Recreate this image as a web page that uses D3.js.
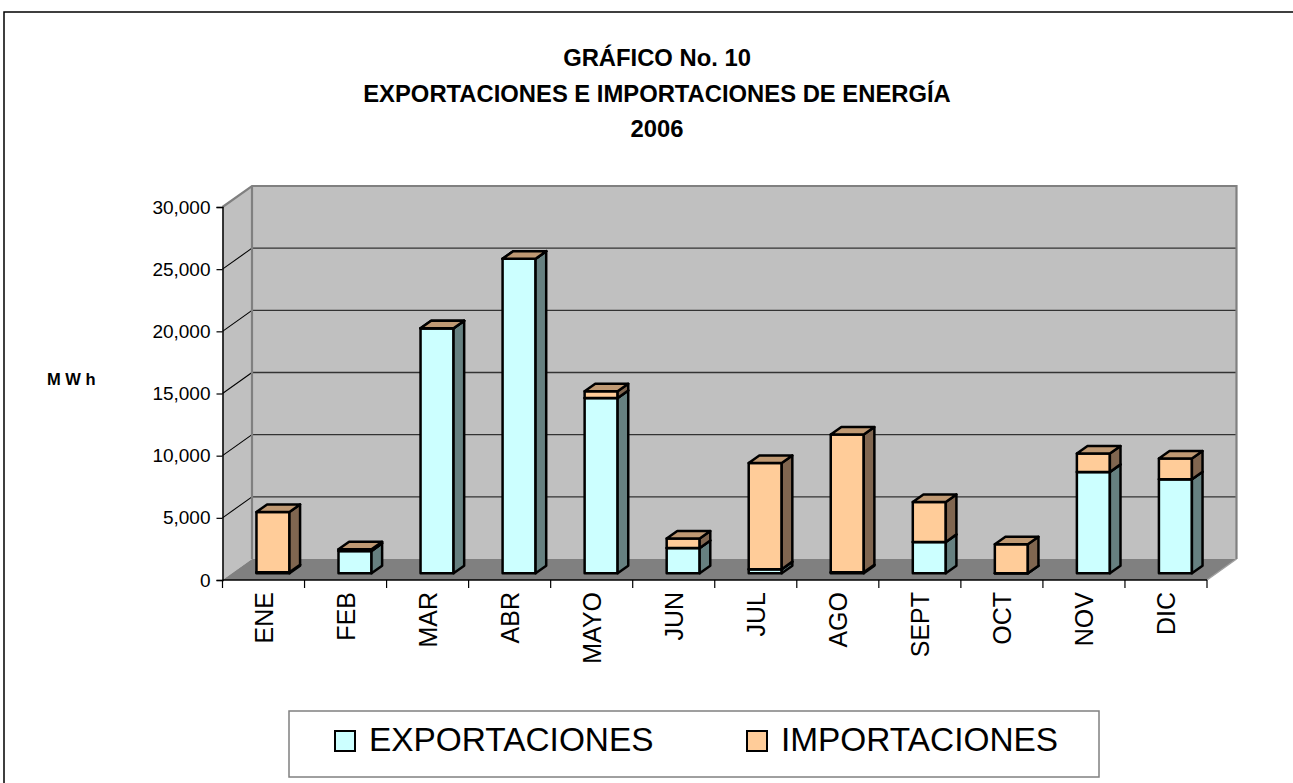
<!DOCTYPE html>
<html><head><meta charset="utf-8">
<script src="https://cdn.jsdelivr.net/npm/d3@7/dist/d3.min.js"></script>
<style>
html,body{margin:0;padding:0;background:#fff;}
svg{display:block;font-family:"Liberation Sans",Arial,sans-serif;}
</style></head>
<body>
<svg id="chart" width="1293" height="783"></svg>
<script>
// ---- data ----
const months = ["ENE","FEB","MAR","ABR","MAYO","JUN","JUL","AGO","SEPT","OCT","NOV","DIC"];
const exportaciones = [80, 1800, 19700, 25300, 14100, 2030, 330, 80, 2520, 0, 8150, 7560];
const importaciones = [4850, 130, 0, 0, 540, 760, 8540, 11075, 3215, 2330, 1480, 1665];
const yTicks = [0, 5000, 10000, 15000, 20000, 25000, 30000];
const titleLines = ["GRÁFICO No. 10", "EXPORTACIONES E IMPORTACIONES DE ENERGÍA", "2006"];
const seriesNames = ["EXPORTACIONES", "IMPORTACIONES"];
const unitLabel = "M W h";

// ---- styles ----
const colors = [
  {front:"#CCFFFF", side:"#668080", top:"#99BFBF"},
  {front:"#FFCC99", side:"#806650", top:"#BF9973"}
];

const svg = d3.select("#chart");

// outer frame
svg.append("path").attr("d","M4,783 L4,12 L1293,12").attr("fill","none").attr("stroke","#000").attr("stroke-width",1.5);

// title
svg.append("g").selectAll("text").data(titleLines).join("text")
  .attr("x",657).attr("y",(d,i)=>66+i*35.5)
  .attr("text-anchor","middle").attr("font-weight","bold").attr("font-size",23.8)
  .text(d=>d);

// scales
const x = d3.scaleBand().domain(months).range([222.5,1207]);
const y = d3.scaleLinear().domain([0,30000]).range([580,207]);
const DX = 29.5, DY = -21;          // full-depth offset
const zF = 0.32, zB = 0.68;          // bar depth span
const barW = 33;
const P = (px,py,z)=>[px+DX*z, py+DY*z];

const x0 = x.range()[0], x1 = x.range()[1];
const yTop = y(30000), yBot = y(0);

// side wall (left)
svg.append("path")
  .attr("d", d3.line()([P(x0,yBot,0),P(x0,yTop,0),P(x0,yTop,1),P(x0,yBot,1)]) + "Z")
  .attr("fill","#C0C0C0").attr("stroke","none");
// back wall
svg.append("path")
  .attr("d", d3.line()([P(x0,yBot,1),P(x0,yTop,1),P(x1,yTop,1),P(x1,yBot,1)]) + "Z")
  .attr("fill","#C0C0C0").attr("stroke","none");
// floor
svg.append("path")
  .attr("d", d3.line()([P(x0,yBot,0),P(x1,yBot,0),P(x1,yBot,1),P(x0,yBot,1)]) + "Z")
  .attr("fill","#808080").attr("stroke","none");

// gridlines on back wall and side wall
const grid = svg.append("g");
yTicks.filter(v=>v>0 && v<30000).forEach(v=>{
  const a = P(x0,y(v),1), b = P(x1,y(v),1), c = P(x0,y(v),0);
  grid.append("line").attr("x1",a[0]).attr("y1",a[1]).attr("x2",b[0]).attr("y2",b[1])
    .attr("stroke","#333").attr("stroke-width",1.4);
  grid.append("line").attr("x1",c[0]).attr("y1",c[1]).attr("x2",a[0]).attr("y2",a[1])
    .attr("stroke","#000").attr("stroke-width",1.1);
});
// wall borders
svg.append("path")
  .attr("d", d3.line()([P(x0,yTop,0),P(x0,yTop,1),P(x1,yTop,1),P(x1,yBot,1)]))
  .attr("fill","none").attr("stroke","#808080").attr("stroke-width",2.2);
svg.append("path")
  .attr("d", d3.line()([P(x0,yBot,1),P(x0,yTop,1)]))
  .attr("fill","none").attr("stroke","#808080").attr("stroke-width",2.2);
svg.append("path")
  .attr("d", d3.line()([P(x1,yBot,0),P(x1,yBot,1)]))
  .attr("fill","none").attr("stroke","#A0A0A0").attr("stroke-width",1.5);

// bars
const bars = svg.append("g");
months.forEach((m,i)=>{
  const vals = [exportaciones[i], importaciones[i]];
  let base = 0;
  const cx = x(m) + x.bandwidth()/2;
  vals.forEach((v,s)=>{
    const yb = y(base), yt = y(base+v);
    const fl = P(cx-barW/2, 0, zF)[0], fr = P(cx+barW/2, 0, zF)[0];
    const ft = P(0,yt,zF)[1], fb = P(0,yb,zF)[1];
    const sdx = DX*(zB-zF), sdy = DY*(zB-zF);
    const g = bars.append("g").attr("stroke","#000").attr("stroke-width",2.5).attr("stroke-linejoin","round");
    g.append("path").attr("d", d3.line()([[fl,ft],[fr,ft],[fr,fb],[fl,fb]])+"Z").attr("fill",colors[s].front);
    g.append("path").attr("d", d3.line()([[fr,ft],[fr+sdx,ft+sdy],[fr+sdx,fb+sdy],[fr,fb]])+"Z").attr("fill",colors[s].side);
    g.append("path").attr("d", d3.line()([[fl,ft],[fr,ft],[fr+sdx,ft+sdy],[fl+sdx,ft+sdy]])+"Z").attr("fill",colors[s].top);
    base += v;
  });
});

// value axis
const yAxis = d3.axisLeft(y).tickValues(yTicks).tickFormat(d3.format(",")).tickSize(6).tickPadding(6);
const ya = svg.append("g").attr("transform",`translate(${x0},0)`).call(yAxis);
ya.select(".domain").attr("stroke","#000").attr("stroke-width",1.5);
ya.selectAll(".tick line").attr("stroke","#000").attr("stroke-width",1.2);
ya.selectAll(".tick text").attr("font-size",19).attr("font-family","Liberation Sans, Arial, sans-serif").attr("fill","#000");

// category axis
const xa = svg.append("g");
xa.append("line").attr("x1",x0).attr("x2",x1).attr("y1",yBot).attr("y2",yBot).attr("stroke","#000").attr("stroke-width",1.5);
const bounds = months.map(m=>x(m)).concat([x1]);
xa.selectAll("line.t").data(bounds).join("line").attr("class","t")
  .attr("x1",d=>d).attr("x2",d=>d).attr("y1",yBot).attr("y2",yBot+8)
  .attr("stroke","#000").attr("stroke-width",1.2);
xa.selectAll("text").data(months).join("text")
  .attr("transform",d=>`translate(${x(d)+x.bandwidth()/2},${yBot+12}) rotate(-90)`)
  .attr("text-anchor","end").attr("dy","0.36em").attr("font-size",25)
  .text(d=>d);

// unit label
svg.append("text").attr("x",47).attr("y",385).attr("font-weight","bold").attr("font-size",16.5).text(unitLabel);

// legend
const lg = svg.append("g");
lg.append("rect").attr("x",289).attr("y",711).attr("width",810).attr("height",66)
  .attr("fill","#fff").attr("stroke","#808080").attr("stroke-width",1.5);
const legX = [335, 747];
seriesNames.forEach((n,s)=>{
  lg.append("rect").attr("x",legX[s]).attr("y",731).attr("width",20).attr("height",20)
    .attr("fill",colors[s].front).attr("stroke","#000").attr("stroke-width",2);
  lg.append("text").attr("x",legX[s]+34).attr("y",751).attr("font-size",33.4).text(n);
});
</script>
</body></html>
